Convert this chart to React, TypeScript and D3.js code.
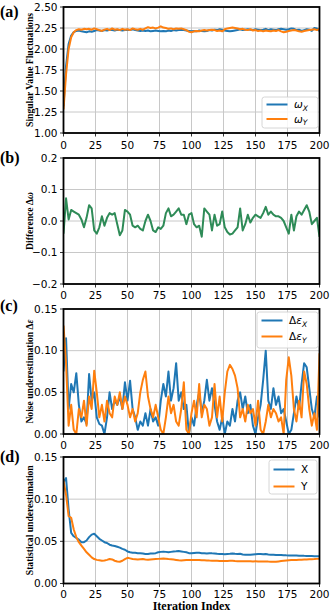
import * as d3 from 'd3';
import React from 'react';

// iteration index of every stored sample
const iterations = d3.range(0, 201, 2);

const xTicks = [0, 25, 50, 75, 100, 125, 150, 175, 200];

// (a) singular value fluctuations
const omegaX = [
  1.32, 1.80, 2.06, 2.16, 2.20, 2.215, 2.22, 2.21, 2.205, 2.20,
  2.21, 2.205, 2.215, 2.225, 2.22, 2.215, 2.225, 2.22, 2.23, 2.225,
  2.22, 2.23, 2.225, 2.22, 2.225, 2.23, 2.225, 2.235, 2.225, 2.22,
  2.215, 2.22, 2.215, 2.22, 2.21, 2.215, 2.22, 2.215, 2.21, 2.215,
  2.21, 2.22, 2.215, 2.225, 2.22, 2.225, 2.23, 2.225, 2.22, 2.215,
  2.21, 2.215, 2.21, 2.22, 2.215, 2.21, 2.215, 2.225, 2.22, 2.23,
  2.225, 2.235, 2.23, 2.22, 2.215, 2.21, 2.215, 2.22, 2.225, 2.235,
  2.225, 2.23, 2.235, 2.23, 2.225, 2.235, 2.23, 2.225, 2.23, 2.24,
  2.225, 2.235, 2.23, 2.225, 2.235, 2.24, 2.235, 2.23, 2.235, 2.245,
  2.24, 2.225, 2.23, 2.215, 2.225, 2.235, 2.23, 2.215, 2.25, 2.245,
  2.215,
];
const omegaY = [
  1.28, 1.70, 2.00, 2.14, 2.20, 2.225, 2.235, 2.23, 2.24, 2.235,
  2.24, 2.23, 2.245, 2.235, 2.225, 2.215, 2.23, 2.24, 2.225, 2.245,
  2.23, 2.235, 2.225, 2.24, 2.23, 2.235, 2.225, 2.245, 2.235, 2.23,
  2.24, 2.23, 2.245, 2.26, 2.25, 2.255, 2.245, 2.255, 2.27, 2.255,
  2.25, 2.24, 2.245, 2.235, 2.245, 2.24, 2.245, 2.235, 2.225, 2.205,
  2.20, 2.21, 2.215, 2.21, 2.22, 2.225, 2.22, 2.225, 2.23, 2.225,
  2.215, 2.22, 2.21, 2.235, 2.245, 2.25, 2.255, 2.25, 2.245, 2.235,
  2.24, 2.23, 2.225, 2.235, 2.22, 2.225, 2.215, 2.22, 2.21, 2.22,
  2.215, 2.21, 2.22, 2.215, 2.225, 2.21, 2.20, 2.205, 2.215, 2.22,
  2.225, 2.22, 2.21, 2.205, 2.215, 2.22, 2.225, 2.23, 2.235, 2.225,
  2.24,
];

// (b) difference
const deltaOmega = [
  -0.04, 0.072, 0.005, 0.035, 0.03, 0.025, 0.02, 0.005, -0.02, 0.01,
  0.05, 0.04, -0.03, -0.04, -0.02, 0.015, -0.015, 0.01, 0.025, 0.02,
  0.025, -0.01, -0.045, -0.03, 0.035, 0.03, 0.02, -0.015, -0.02, -0.015,
  -0.025, -0.03, 0.0, 0.02, 0.0, -0.03, -0.035, -0.02, -0.025, -0.015,
  0.025, 0.04, 0.015, 0.02, 0.03, 0.04, 0.02, 0.02, -0.01, 0.02,
  0.025, -0.01, -0.02, -0.015, -0.05, 0.04, 0.03, 0.02, -0.03, 0.02,
  -0.015, -0.01, 0.03, -0.02, -0.035, -0.043, -0.04, -0.03, -0.02, 0.04,
  -0.03, -0.01, 0.02, -0.005, 0.01, 0.02, 0.015, 0.01, 0.025, 0.045,
  0.02, 0.03, 0.02, 0.015, 0.015, 0.01, 0.0, -0.02, -0.04, 0.02,
  -0.03, 0.015, 0.03, 0.02, 0.035, 0.05, 0.03, -0.01, 0.0, 0.01,
  -0.05,
];

// (c) noise underestimation
const epsX = [
  0.075, 0.115, 0.03, 0.06, 0.05, 0.073, 0.035, 0.015, 0.02, 0.012,
  0.072, 0.04, 0.05, 0.02, 0.012, 0.01, 0.0, 0.02, 0.05, 0.03,
  0.04, 0.035, 0.045, 0.03, 0.062, 0.04, 0.064, 0.03, 0.02, 0.005,
  0.015, 0.01, 0.025, 0.01, 0.03, 0.015, 0.02, 0.01, 0.04, 0.06,
  0.045, 0.075, 0.04, 0.055, 0.085, 0.04, 0.05, 0.03, 0.035, 0.0,
  0.02, 0.01, 0.035, 0.05, 0.025, 0.04, 0.065, 0.04, 0.055, 0.035,
  0.015, 0.005, 0.02, 0.0, 0.015, 0.01, 0.03, 0.015, 0.04, 0.05,
  0.03, 0.045, 0.025, 0.035, 0.01, 0.0, 0.02, 0.035, 0.065, 0.1,
  0.04, 0.03, 0.055, 0.035, 0.045, 0.025, 0.03, 0.015, 0.0, 0.005,
  0.025, 0.045, 0.03, 0.06, 0.085, 0.08, 0.055, 0.03, 0.02, 0.045,
  0.02,
];
const epsY = [
  0.13, 0.085, 0.01, 0.035, 0.005, 0.0, 0.03, 0.02, 0.04, 0.01,
  0.045, 0.03, 0.076, 0.05, 0.02, 0.035, 0.015, 0.04, 0.025, 0.02,
  0.045, 0.035, 0.05, 0.03, 0.045, 0.035, 0.02, 0.03, 0.015, 0.025,
  0.05, 0.065, 0.075, 0.045, 0.03, 0.02, 0.035, 0.02, 0.005, 0.0,
  0.02, 0.045, 0.025, 0.035, 0.015, 0.01, 0.03, 0.062, 0.005, 0.0,
  0.025, 0.04, 0.02, 0.06, 0.02, 0.035, 0.03, 0.01, 0.02, 0.06,
  0.02, 0.045, 0.015, 0.05, 0.075, 0.083, 0.078, 0.07, 0.055, 0.02,
  0.03, 0.015, 0.035, 0.025, 0.03, 0.01, 0.04, 0.005, 0.0, 0.015,
  0.035, 0.02, 0.03, 0.025, 0.015, 0.02, 0.0, 0.065, 0.092, 0.07,
  0.03, 0.015, 0.04, 0.02, 0.075, 0.06, 0.03, 0.01, 0.025, 0.005,
  0.097,
];

// (d) statistical underestimation
const statX = [
  0.12, 0.125, 0.088, 0.06, 0.056, 0.054, 0.052, 0.049, 0.049, 0.051,
  0.055, 0.058, 0.059, 0.056, 0.053, 0.051, 0.049, 0.048, 0.046, 0.045,
  0.0445, 0.0435, 0.0425, 0.041, 0.04, 0.038, 0.037, 0.0365, 0.0365, 0.036,
  0.036, 0.0355, 0.035, 0.035, 0.0355, 0.0355, 0.036, 0.037, 0.0375, 0.0378,
  0.0375, 0.037, 0.0375, 0.038, 0.0382, 0.0385, 0.038, 0.0375, 0.037, 0.036,
  0.0358, 0.0362, 0.0365, 0.0365, 0.036, 0.0358, 0.0355, 0.036, 0.0358, 0.0357,
  0.0352, 0.035, 0.035, 0.0348, 0.035, 0.0352, 0.0355, 0.0352, 0.035, 0.0352,
  0.0345, 0.0342, 0.034, 0.0342, 0.0345, 0.0348, 0.035, 0.035, 0.0348, 0.035,
  0.0345, 0.0342, 0.034, 0.0338, 0.0337, 0.0338, 0.0336, 0.0334, 0.0333, 0.0332,
  0.0333, 0.0332, 0.033, 0.033, 0.0328, 0.0327, 0.0326, 0.0325, 0.0324, 0.0322,
  0.0322,
];
const statY = [
  0.122, 0.105, 0.08, 0.078, 0.064, 0.055, 0.049, 0.045, 0.041, 0.037,
  0.034, 0.031, 0.029, 0.028, 0.0275, 0.027, 0.0272, 0.028, 0.029, 0.0285,
  0.027, 0.026, 0.0258, 0.027, 0.029, 0.0305, 0.0298, 0.029, 0.0288, 0.0285,
  0.0288, 0.029, 0.0285, 0.0283, 0.0286, 0.0288, 0.029, 0.0292, 0.0294, 0.0295,
  0.0293, 0.029, 0.0288, 0.0284, 0.028, 0.0276, 0.0274, 0.0276, 0.0278, 0.028,
  0.028, 0.0279, 0.0278, 0.0278, 0.0276, 0.0275, 0.0274, 0.0272, 0.0271, 0.027,
  0.027, 0.0268, 0.0268, 0.0267, 0.0268, 0.027, 0.0269, 0.0266, 0.0265, 0.0265,
  0.0264, 0.0265, 0.0264, 0.0263, 0.0262, 0.0263, 0.0262, 0.0262, 0.0261, 0.0262,
  0.026, 0.0259, 0.0258, 0.0258, 0.0262, 0.0266, 0.027, 0.0274, 0.0277, 0.0278,
  0.0279, 0.028, 0.0281, 0.0282, 0.0284, 0.0286, 0.0288, 0.0289, 0.029, 0.0292,
  0.0294,
];

const BLUE = '#1f77b4';
const ORANGE = '#ff7f0e';
const GREEN = '#2e8b57';
const SANS = 'DejaVu Sans, sans-serif';
const SERIF = 'Liberation Serif, Times New Roman, serif';

const LEFT = 63.5;
const RIGHT = 319.5;
const x = d3.scaleLinear().domain([0, 200]).range([LEFT, RIGHT]);

type Series = { values: number[]; color: string; label?: React.ReactNode };

type Legend = { x: number; y: number; w: number; h: number; first: number; gap: number };

type PanelProps = {
  id: string;
  top: number;
  bottom: number;
  domain: [number, number];
  ticks: number[];
  fmt: (v: number) => string;
  series: Series[];
  tag: string;
  tagY: number;
  tickY: number;
  ylabel: React.ReactNode;
  legend?: Legend;
};

function Panel({ id, top, bottom, domain, ticks, fmt, series, tag, tagY, tickY, ylabel, legend }: PanelProps) {
  const y = d3.scaleLinear().domain(domain).range([bottom, top]);
  const line = d3
    .line<number>()
    .x((_, i) => x(iterations[i]))
    .y((v) => y(v));
  const mid = (top + bottom) / 2;

  return (
    <g>
      <defs>
        <clipPath id={`clip-${id}`}>
          <rect x={LEFT} y={top} width={RIGHT - LEFT} height={bottom - top} />
        </clipPath>
      </defs>
      {/* grid */}
      {xTicks.map((t) => (
        <line key={`gx${t}`} x1={x(t)} x2={x(t)} y1={top} y2={bottom} stroke="#c8c8c8" strokeWidth={1} />
      ))}
      {ticks.map((t) => (
        <line key={`gy${t}`} x1={LEFT} x2={RIGHT} y1={y(t)} y2={y(t)} stroke="#c8c8c8" strokeWidth={1} />
      ))}
      <g clipPath={`url(#clip-${id})`}>
        {series.map((s, k) => (
          <path key={k} d={line(s.values) || ''} fill="none" stroke={s.color} strokeWidth={2} strokeLinejoin="round" />
        ))}
      </g>
      <rect x={LEFT} y={top} width={RIGHT - LEFT} height={bottom - top} fill="none" stroke="#000" strokeWidth={1.8} />
      {/* ticks */}
      {xTicks.map((t) => (
        <g key={`tx${t}`}>
          <line x1={x(t)} x2={x(t)} y1={bottom} y2={bottom + 3.5} stroke="#000" strokeWidth={0.8} />
          <text x={x(t)} y={bottom + tickY} textAnchor="middle" fontFamily={SANS} fontSize={10.5}>
            {t}
          </text>
        </g>
      ))}
      {ticks.map((t) => (
        <g key={`ty${t}`}>
          <line x1={LEFT - 3.5} x2={LEFT} y1={y(t)} y2={y(t)} stroke="#000" strokeWidth={0.8} />
          <text x={LEFT - 6} y={y(t) + 3.8} textAnchor="end" fontFamily={SANS} fontSize={10.5}>
            {fmt(t)}
          </text>
        </g>
      ))}
      <text x={0} y={tagY} fontFamily={SERIF} fontWeight="bold" fontSize={16}>
        {tag}
      </text>
      <text
        transform={`translate(33,${mid}) rotate(-90)`}
        textAnchor="middle"
        fontFamily={SERIF}
        fontWeight="bold"
        fontSize={9.6}
      >
        {ylabel}
      </text>
      {legend && (
        <g>
          <rect
            x={legend.x}
            y={legend.y}
            width={legend.w}
            height={legend.h}
            rx={2.5}
            fill="#fff"
            fillOpacity={0.85}
            stroke="#cccccc"
            strokeWidth={0.8}
          />
          {series.map((s, k) => {
            const ly = legend.y + legend.first + k * legend.gap;
            return (
              <g key={k}>
                <line x1={legend.x + 4.5} x2={legend.x + 25.5} y1={ly} y2={ly} stroke={s.color} strokeWidth={2} />
                <text x={legend.x + 32} y={ly + 3.8} fontFamily={SANS} fontSize={10.5}>
                  {s.label}
                </text>
              </g>
            );
          })}
        </g>
      )}
    </g>
  );
}

const sub = (base: string, s: string, italicBase = true) => (
  <>
    <tspan fontStyle={italicBase ? 'italic' : 'normal'}>{base}</tspan>
    <tspan fontStyle="italic" fontSize={7.5} dy={2.5}>
      {s}
    </tspan>
  </>
);

export default function App() {
  const f2 = d3.format('.2f');
  const f1 = (v: number) => d3.format('.1f')(v).replace('-', '\u2212');
  return (
    <div style={{ position: 'absolute', left: 0, top: 0 }}>
      <svg width={333} height={615} style={{ display: 'block', background: '#fff' }}>
        <Panel
          id="a"
          top={7}
          bottom={133}
          domain={[1, 2.5]}
          ticks={[1, 1.25, 1.5, 1.75, 2, 2.25, 2.5]}
          fmt={f2}
          tag="(a)"
          tagY={17}
          tickY={15.5}
          ylabel="Singular Value Fluctuations"
          series={[
            { values: omegaX, color: BLUE, label: sub('\u03c9', 'X') },
            { values: omegaY, color: ORANGE, label: sub('\u03c9', 'Y') },
          ]}
          legend={{ x: 262, y: 97, w: 56, h: 31, first: 7.5, gap: 14.5 }}
        />
        <Panel
          id="b"
          top={158}
          bottom={284}
          domain={[-0.2, 0.2]}
          ticks={[-0.2, -0.1, 0, 0.1, 0.2]}
          fmt={f1}
          tag="(b)"
          tagY={163}
          tickY={15}
          ylabel={
            <>
              Difference {'\u0394'}
              <tspan fontStyle="italic">{'\u03c9'}</tspan>
            </>
          }
          series={[{ values: deltaOmega, color: GREEN }]}
        />
        <Panel
          id="c"
          top={309}
          bottom={434}
          domain={[0, 0.15]}
          ticks={[0, 0.05, 0.1, 0.15]}
          fmt={f2}
          tag="(c)"
          tagY={311}
          tickY={15}
          ylabel={
            <>
              Noise underestimation {'\u0394'}
              <tspan fontStyle="italic">{'\u03b5'}</tspan>
            </>
          }
          series={[
            { values: epsX, color: BLUE, label: <>{'\u0394'}{sub('\u03b5', 'X')}</> },
            { values: epsY, color: ORANGE, label: <>{'\u0394'}{sub('\u03b5', 'Y')}</> },
          ]}
          legend={{ x: 257, y: 312, w: 61, h: 36, first: 8.5, gap: 16 }}
        />
        <Panel
          id="d"
          top={457}
          bottom={583.5}
          domain={[0, 0.15]}
          ticks={[0, 0.05, 0.1, 0.15]}
          fmt={f2}
          tag="(d)"
          tagY={462}
          tickY={14}
          ylabel="Statistical underestimation"
          series={[
            { values: statX, color: BLUE, label: 'X' },
            { values: statY, color: ORANGE, label: 'Y' },
          ]}
          legend={{ x: 269, y: 460, w: 48, h: 34, first: 9.5, gap: 17 }}
        />
        <text x={191.5} y={609.5} textAnchor="middle" fontFamily={SERIF} fontWeight="bold" fontSize={12}>
          Iteration Index
        </text>
      </svg>
    </div>
  );
}
